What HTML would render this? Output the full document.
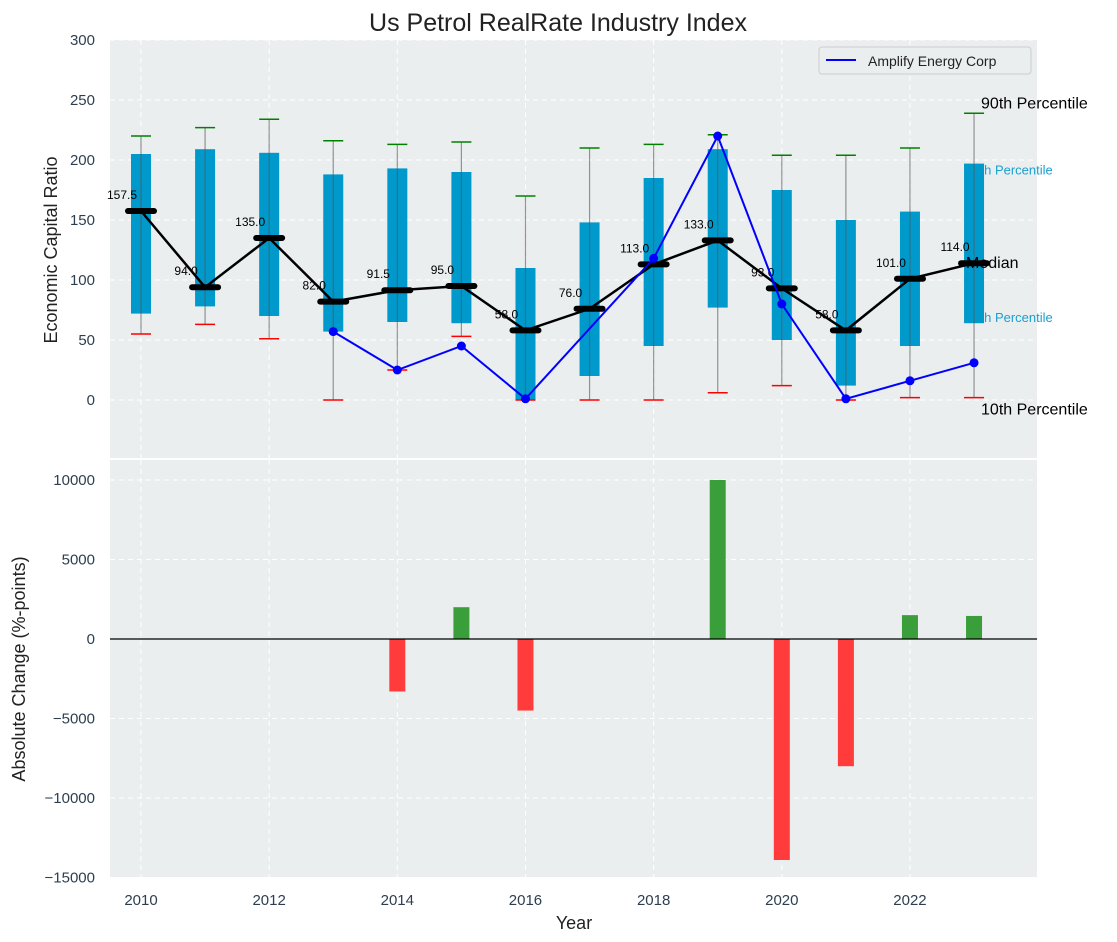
<!DOCTYPE html>
<html><head><meta charset="utf-8"><style>
body{margin:0;background:#fff}
svg{display:block;font-family:"Liberation Sans","DejaVu Sans",sans-serif}
</style></head><body>
<svg id="c" width="1117" height="942" xmlns="http://www.w3.org/2000/svg">
<rect x="110" y="40" width="927" height="418" fill="#ebeeef"/>
<rect x="110" y="460" width="927" height="417" fill="#ebeeef"/>
<g id="grid"></g><g id="under"></g><g id="top"></g><g id="bot"></g><g id="ax"></g>
<text x="558" y="31" text-anchor="middle" font-size="25" fill="#222">Us Petrol RealRate Industry Index</text>
<text transform="translate(57,250) rotate(-90)" text-anchor="middle" font-size="18" fill="#222">Economic Capital Ratio</text>
<text transform="translate(25,669) rotate(-90)" text-anchor="middle" font-size="18" fill="#222">Absolute Change (%-points)</text>
<text x="574" y="929" text-anchor="middle" font-size="18" fill="#222">Year</text>
<g>
<rect x="819" y="47" width="212" height="27" fill="#ebeeef" stroke="#ccc" rx="3"/>
<line x1="826" y1="60" x2="856" y2="60" stroke="#0000ff" stroke-width="2"/>
<text x="868" y="66" font-size="14" fill="#222">Amplify Energy Corp</text>
</g>
</svg>
<script>
const years=[2010,2011,2012,2013,2014,2015,2016,2017,2018,2019,2020,2021,2022,2023];
const p10=[55,63,51,0,25,53,0,0,0,6,12,0,2,2];
const p25=[72,78,70,57,65,64,0,20,45,77,50,12,45,64];
const med=[157.5,94,135,82,91.5,95,58,76,113,133,93,58,101,114];
const p75=[205,209,206,188,193,190,110,148,185,209,175,150,157,197];
const p90=[220,227,234,216,213,215,170,210,213,221,204,204,210,239];
const amplify=[null,null,null,57,25,45,1,null,118,220,80,1,16,31];
const change=[0,0,0,0,-3300,2000,-4500,0,0,10000,-13900,-8000,1500,1450];
const yTicksTop=[0,50,100,150,200,250,300];
const yTicksBot=[-15000,-10000,-5000,0,5000,10000];
const xTicks=[2010,2012,2014,2016,2018,2020,2022];
const NS="http://www.w3.org/2000/svg";
const X=v=>141+(v-2010)*64.08;
const Y=v=>400-v*1.2;
const YB=v=>639-v*0.0159;
function mk(p,t,a){const e=document.createElementNS(NS,t);for(const k in a)e.setAttribute(k,a[k]);p.appendChild(e);return e;}
const G=document.getElementById('grid'),U=document.getElementById('under'),T=document.getElementById('top'),B=document.getElementById('bot'),A=document.getElementById('ax');
xTicks.forEach(t=>{
 let l=mk(G,'line',{x1:X(t),x2:X(t),y1:40,y2:458,stroke:'#fff','stroke-dasharray':'5,4'});
 
 l=mk(G,'line',{x1:X(t),x2:X(t),y1:460,y2:877,stroke:'#fff','stroke-dasharray':'5,4'});
 
 const tx=mk(A,'text',{x:X(t),y:905,'text-anchor':'middle','font-size':15,fill:'#2d3e50'});tx.textContent=t;
 
});
yTicksTop.forEach(t=>{
 const l=mk(G,'line',{x1:110,x2:1037,y1:Y(t),y2:Y(t),stroke:'#fff','stroke-dasharray':'5,4'});
 
 const tx=mk(A,'text',{x:95,y:Y(t)+5,'text-anchor':'end','font-size':15,fill:'#2d3e50'});tx.textContent=t;
 
});
yTicksBot.forEach(t=>{
 const l=mk(G,'line',{x1:110,x2:1037,y1:YB(t),y2:YB(t),stroke:'#fff','stroke-dasharray':'5,4'});
 
 const tx=mk(A,'text',{x:95,y:YB(t)+5,'text-anchor':'end','font-size':15,fill:'#2d3e50'});tx.textContent=t<0?'\u2212'+(-t):t;
 
});
years.forEach((yr,i)=>{
 const x=X(yr);
 const b=mk(T,'rect',{x:x-10,y:Y(p75[i]),width:20,height:Y(p25[i])-Y(p75[i]),fill:'#0099cc'});
 
 const w=mk(T,'line',{x1:x,x2:x,y1:Y(p90[i]),y2:Y(p10[i]),stroke:'#555','stroke-opacity':0.6,'stroke-width':1.2});
 
 const c1=mk(T,'line',{x1:x-10,x2:x+10,y1:Y(p90[i]),y2:Y(p90[i]),stroke:'#008000','stroke-width':1.5});
 
 const c2=mk(T,'line',{x1:x-10,x2:x+10,y1:Y(p10[i]),y2:Y(p10[i]),stroke:'#ff0000','stroke-width':1.5});
 
});
let d=years.map((yr,i)=>(i?'L':'M')+X(yr)+','+Y(med[i])).join('');
let ml=mk(T,'path',{d:d,fill:'none',stroke:'#000','stroke-width':2.5});

years.forEach((yr,i)=>{
 const m=mk(T,'line',{x1:X(yr)-13,x2:X(yr)+13,y1:Y(med[i]),y2:Y(med[i]),stroke:'#000','stroke-width':6,'stroke-linecap':'round'});
 
 const t=mk(T,'text',{x:X(yr)-19,y:Y(med[i])-12,'text-anchor':'middle','font-size':12,fill:'#000'});t.textContent=med[i].toFixed(1);
 
});
let pts=[];years.forEach((yr,i)=>{if(amplify[i]!==null)pts.push([X(yr),Y(amplify[i])]);});
let al=mk(T,'path',{d:pts.map((p,i)=>(i?'L':'M')+p[0]+','+p[1]).join(''),fill:'none',stroke:'#0000ff','stroke-width':2});

pts.forEach(p=>{const c=mk(T,'circle',{cx:p[0],cy:p[1],r:4.5,fill:'#0000ff'});
 });
const last=years.length-1,lx=X(years[last]);
[['90th Percentile',p90[last]+8,16,'#000',lx+7,'p90-annotation',T],['75th Percentile',p75[last]-5,13,'#1aa0d0',lx-8,'p75-annotation',U],['Median',med[last],16,'#000',lx-8,'median-annotation',T],['25th Percentile',p25[last]+5,13,'#1aa0d0',lx-8,'p25-annotation',U],['10th Percentile',p10[last]-10,16,'#000',lx+7,'p10-annotation',T]].forEach(a=>{
 const t=mk(a[6],'text',{x:a[4],y:Y(a[1])+5,'font-size':a[2],fill:a[3]});t.textContent=a[0];
 
});
years.forEach((yr,i)=>{
 if(!change[i])return;
 const y0=YB(0),y1=YB(change[i]);
 const r=mk(B,'rect',{x:X(yr)-8,y:Math.min(y0,y1),width:16,height:Math.abs(y1-y0),fill:change[i]>0?'#3a9e3a':'#ff3b3b'});
 
});
const z=mk(B,'line',{x1:110,x2:1037,y1:YB(0),y2:YB(0),stroke:'#000','stroke-width':1.2});

</script>
</body></html>
